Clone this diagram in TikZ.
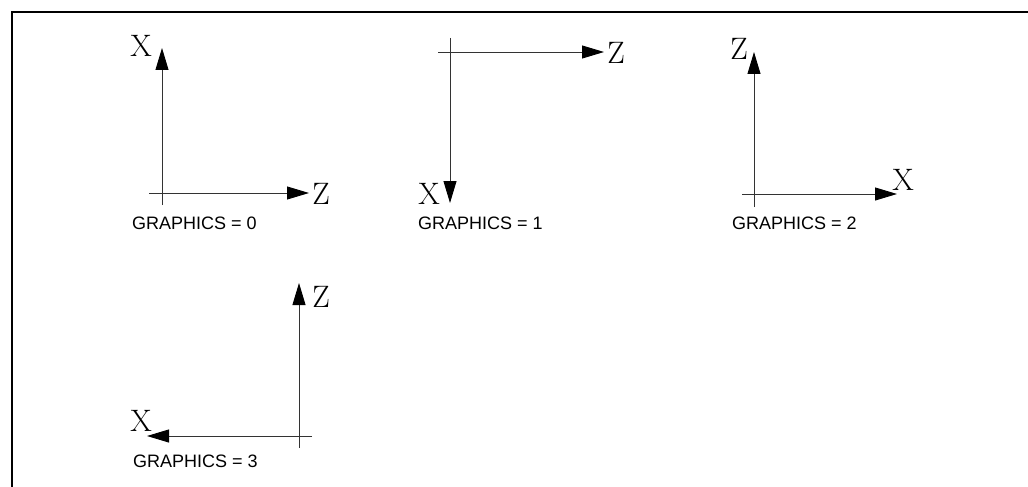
\documentclass[tikz,border=0pt]{standalone}
\usepackage{fontspec}
\newfontfamily\capsans{Liberation Sans}
\usetikzlibrary{arrows.meta}
\tikzset{
  axis/.style={line width=0.9pt, black!80, -{Triangle[length=22pt,width=13pt,color=black]}},
  axlabel/.style={inner sep=0pt, font=\fontsize{31}{31}\selectfont},
  caption/.style={inner sep=0pt, anchor=west, font=\capsans\fontsize{18}{18}\selectfont},
  frame/.style={line width=2pt, black}
}
\begin{document}
\begin{tikzpicture}[x=1pt,y=-1pt]
\useasboundingbox (0,0) rectangle (1028,487);
% frame (top and left edges)
\coordinate (fa) at (1028,12);
\coordinate (fb) at (12,12);
\coordinate (fc) at (12,487);
\draw[frame] (fa) -- (fb) -- (fc);

% GRAPHICS = 0
\coordinate (a0v0) at (162,205);
\coordinate (a0v1) at (162,48);
\coordinate (a0h0) at (149,193);
\coordinate (a0h1) at (309,193);
\draw[axis] (a0v0) -- (a0v1);
\draw[axis] (a0h0) -- (a0h1);
\node[axlabel] (x0) at (141,46) {X};
\node[axlabel] (z0) at (321,194) {Z};
\node[caption] (g0) at (132,223) {GRAPHICS = 0};

% GRAPHICS = 1
\coordinate (a1v0) at (450,38);
\coordinate (a1v1) at (450,203);
\coordinate (a1h0) at (438,52);
\coordinate (a1h1) at (604,52);
\draw[axis] (a1v0) -- (a1v1);
\draw[axis] (a1h0) -- (a1h1);
\node[axlabel] (z1) at (616,53) {Z};
\node[axlabel] (x1) at (429,194) {X};
\node[caption] (g1) at (418,223) {GRAPHICS = 1};

% GRAPHICS = 2
\coordinate (a2v0) at (754,207);
\coordinate (a2v1) at (754,52);
\coordinate (a2h0) at (742,194);
\coordinate (a2h1) at (897,194);
\draw[axis] (a2v0) -- (a2v1);
\draw[axis] (a2h0) -- (a2h1);
\node[axlabel] (z2) at (739,49) {Z};
\node[axlabel] (x2) at (903,180) {X};
\node[caption] (g2) at (732,223) {GRAPHICS = 2};

% GRAPHICS = 3
\coordinate (a3v0) at (299,448);
\coordinate (a3v1) at (299,283);
\coordinate (a3h0) at (312,436);
\coordinate (a3h1) at (147,436);
\draw[axis] (a3v0) -- (a3v1);
\draw[axis] (a3h0) -- (a3h1);
\node[axlabel] (z3) at (321,297) {Z};
\node[axlabel] (x3) at (141,421) {X};
\node[caption] (g3) at (133,461) {GRAPHICS = 3};
\end{tikzpicture}
\end{document}
